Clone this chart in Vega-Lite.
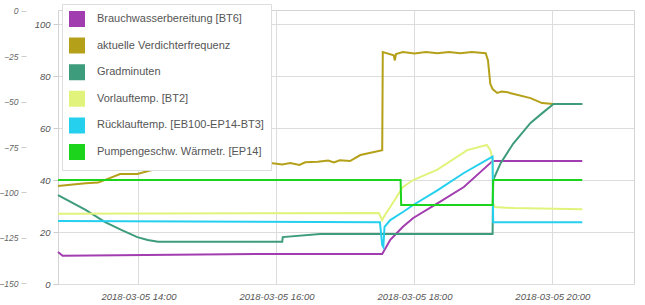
{
"$schema": "https://vega.github.io/schema/vega-lite/v6.json",
"width": 576, "height": 274,
"autosize": {"type": "none"},
"padding": {"left": 58, "top": 10, "right": 11, "bottom": 21},
"background": "white",
"view": {"stroke": "#d4d4d4"},
"data": {"values": [
{"time":"2018-03-05T12:50:00","series":"Brauchwasserbereitung [BT6]","value":12.3},
{"time":"2018-03-05T12:54:00","series":"Brauchwasserbereitung [BT6]","value":10.9},
{"time":"2018-03-05T15:42:00","series":"Brauchwasserbereitung [BT6]","value":11.5},
{"time":"2018-03-05T17:32:00","series":"Brauchwasserbereitung [BT6]","value":11.5},
{"time":"2018-03-05T17:39:00","series":"Brauchwasserbereitung [BT6]","value":17.0},
{"time":"2018-03-05T17:50:00","series":"Brauchwasserbereitung [BT6]","value":22.0},
{"time":"2018-03-05T17:59:00","series":"Brauchwasserbereitung [BT6]","value":25.4},
{"time":"2018-03-05T18:20:00","series":"Brauchwasserbereitung [BT6]","value":31.0},
{"time":"2018-03-05T18:43:00","series":"Brauchwasserbereitung [BT6]","value":37.3},
{"time":"2018-03-05T19:06:00","series":"Brauchwasserbereitung [BT6]","value":46.5},
{"time":"2018-03-05T19:08:00","series":"Brauchwasserbereitung [BT6]","value":47.3},
{"time":"2018-03-05T20:26:00","series":"Brauchwasserbereitung [BT6]","value":47.3},
{"time":"2018-03-05T12:50:00","series":"aktuelle Verdichterfrequenz","value":37.7},
{"time":"2018-03-05T13:14:00","series":"aktuelle Verdichterfrequenz","value":38.8},
{"time":"2018-03-05T13:25:00","series":"aktuelle Verdichterfrequenz","value":39.0},
{"time":"2018-03-05T13:44:00","series":"aktuelle Verdichterfrequenz","value":42.3},
{"time":"2018-03-05T13:59:00","series":"aktuelle Verdichterfrequenz","value":42.3},
{"time":"2018-03-05T14:15:00","series":"aktuelle Verdichterfrequenz","value":44.2},
{"time":"2018-03-05T14:35:00","series":"aktuelle Verdichterfrequenz","value":45.0},
{"time":"2018-03-05T15:42:00","series":"aktuelle Verdichterfrequenz","value":45.8},
{"time":"2018-03-05T15:55:00","series":"aktuelle Verdichterfrequenz","value":46.5},
{"time":"2018-03-05T16:05:00","series":"aktuelle Verdichterfrequenz","value":46.0},
{"time":"2018-03-05T16:12:00","series":"aktuelle Verdichterfrequenz","value":46.5},
{"time":"2018-03-05T16:20:00","series":"aktuelle Verdichterfrequenz","value":45.8},
{"time":"2018-03-05T16:25:00","series":"aktuelle Verdichterfrequenz","value":46.8},
{"time":"2018-03-05T16:36:00","series":"aktuelle Verdichterfrequenz","value":47.0},
{"time":"2018-03-05T16:45:00","series":"aktuelle Verdichterfrequenz","value":47.5},
{"time":"2018-03-05T16:50:00","series":"aktuelle Verdichterfrequenz","value":46.8},
{"time":"2018-03-05T16:55:00","series":"aktuelle Verdichterfrequenz","value":47.6},
{"time":"2018-03-05T17:04:00","series":"aktuelle Verdichterfrequenz","value":47.3},
{"time":"2018-03-05T17:13:00","series":"aktuelle Verdichterfrequenz","value":49.6},
{"time":"2018-03-05T17:32:00","series":"aktuelle Verdichterfrequenz","value":51.5},
{"time":"2018-03-05T17:32:30","series":"aktuelle Verdichterfrequenz","value":89.2},
{"time":"2018-03-05T17:42:00","series":"aktuelle Verdichterfrequenz","value":88.0},
{"time":"2018-03-05T17:43:00","series":"aktuelle Verdichterfrequenz","value":86.0},
{"time":"2018-03-05T17:44:00","series":"aktuelle Verdichterfrequenz","value":88.5},
{"time":"2018-03-05T17:50:00","series":"aktuelle Verdichterfrequenz","value":89.2},
{"time":"2018-03-05T18:00:00","series":"aktuelle Verdichterfrequenz","value":88.7},
{"time":"2018-03-05T18:10:00","series":"aktuelle Verdichterfrequenz","value":89.2},
{"time":"2018-03-05T18:20:00","series":"aktuelle Verdichterfrequenz","value":88.8},
{"time":"2018-03-05T18:30:00","series":"aktuelle Verdichterfrequenz","value":89.2},
{"time":"2018-03-05T18:40:00","series":"aktuelle Verdichterfrequenz","value":88.8},
{"time":"2018-03-05T18:50:00","series":"aktuelle Verdichterfrequenz","value":89.2},
{"time":"2018-03-05T19:02:00","series":"aktuelle Verdichterfrequenz","value":88.8},
{"time":"2018-03-05T19:04:00","series":"aktuelle Verdichterfrequenz","value":86.0},
{"time":"2018-03-05T19:06:00","series":"aktuelle Verdichterfrequenz","value":77.0},
{"time":"2018-03-05T19:08:00","series":"aktuelle Verdichterfrequenz","value":75.0},
{"time":"2018-03-05T19:12:00","series":"aktuelle Verdichterfrequenz","value":73.5},
{"time":"2018-03-05T19:16:00","series":"aktuelle Verdichterfrequenz","value":74.0},
{"time":"2018-03-05T19:21:00","series":"aktuelle Verdichterfrequenz","value":73.8},
{"time":"2018-03-05T19:23:00","series":"aktuelle Verdichterfrequenz","value":73.5},
{"time":"2018-03-05T19:41:00","series":"aktuelle Verdichterfrequenz","value":71.5},
{"time":"2018-03-05T19:51:00","series":"aktuelle Verdichterfrequenz","value":69.6},
{"time":"2018-03-05T20:01:00","series":"aktuelle Verdichterfrequenz","value":69.2},
{"time":"2018-03-05T20:26:00","series":"aktuelle Verdichterfrequenz","value":69.2},
{"time":"2018-03-05T12:50:00","series":"Gradminuten","value":-101.5},
{"time":"2018-03-05T13:14:00","series":"Gradminuten","value":-109.7},
{"time":"2018-03-05T13:31:00","series":"Gradminuten","value":-116.4},
{"time":"2018-03-05T13:45:00","series":"Gradminuten","value":-120.7},
{"time":"2018-03-05T13:59:00","series":"Gradminuten","value":-124.7},
{"time":"2018-03-05T14:08:00","series":"Gradminuten","value":-126.3},
{"time":"2018-03-05T14:17:00","series":"Gradminuten","value":-127.3},
{"time":"2018-03-05T16:05:00","series":"Gradminuten","value":-127.3},
{"time":"2018-03-05T16:05:30","series":"Gradminuten","value":-124.7},
{"time":"2018-03-05T16:38:00","series":"Gradminuten","value":-123.0},
{"time":"2018-03-05T19:08:00","series":"Gradminuten","value":-123.0},
{"time":"2018-03-05T19:08:30","series":"Gradminuten","value":-93.2},
{"time":"2018-03-05T19:15:00","series":"Gradminuten","value":-83.9},
{"time":"2018-03-05T19:26:00","series":"Gradminuten","value":-73.1},
{"time":"2018-03-05T19:41:00","series":"Gradminuten","value":-61.7},
{"time":"2018-03-05T19:52:00","series":"Gradminuten","value":-55.9},
{"time":"2018-03-05T20:01:00","series":"Gradminuten","value":-51.3},
{"time":"2018-03-05T20:26:00","series":"Gradminuten","value":-51.3},
{"time":"2018-03-05T12:50:00","series":"Vorlauftemp. [BT2]","value":27.0},
{"time":"2018-03-05T17:29:00","series":"Vorlauftemp. [BT2]","value":27.3},
{"time":"2018-03-05T17:32:00","series":"Vorlauftemp. [BT2]","value":24.6},
{"time":"2018-03-05T17:35:00","series":"Vorlauftemp. [BT2]","value":27.0},
{"time":"2018-03-05T17:39:00","series":"Vorlauftemp. [BT2]","value":29.6},
{"time":"2018-03-05T17:50:00","series":"Vorlauftemp. [BT2]","value":37.3},
{"time":"2018-03-05T17:59:00","series":"Vorlauftemp. [BT2]","value":40.0},
{"time":"2018-03-05T18:20:00","series":"Vorlauftemp. [BT2]","value":44.0},
{"time":"2018-03-05T18:46:00","series":"Vorlauftemp. [BT2]","value":51.5},
{"time":"2018-03-05T19:03:00","series":"Vorlauftemp. [BT2]","value":53.5},
{"time":"2018-03-05T19:06:00","series":"Vorlauftemp. [BT2]","value":51.5},
{"time":"2018-03-05T19:08:00","series":"Vorlauftemp. [BT2]","value":48.0},
{"time":"2018-03-05T19:08:30","series":"Vorlauftemp. [BT2]","value":31.0},
{"time":"2018-03-05T19:10:00","series":"Vorlauftemp. [BT2]","value":29.6},
{"time":"2018-03-05T19:26:00","series":"Vorlauftemp. [BT2]","value":29.2},
{"time":"2018-03-05T20:26:00","series":"Vorlauftemp. [BT2]","value":28.8},
{"time":"2018-03-05T12:50:00","series":"Rücklauftemp. [EB100-EP14-BT3]","value":24.2},
{"time":"2018-03-05T17:30:00","series":"Rücklauftemp. [EB100-EP14-BT3]","value":23.8},
{"time":"2018-03-05T17:32:00","series":"Rücklauftemp. [EB100-EP14-BT3]","value":15.0},
{"time":"2018-03-05T17:33:00","series":"Rücklauftemp. [EB100-EP14-BT3]","value":14.2},
{"time":"2018-03-05T17:34:00","series":"Rücklauftemp. [EB100-EP14-BT3]","value":22.0},
{"time":"2018-03-05T17:39:00","series":"Rücklauftemp. [EB100-EP14-BT3]","value":24.6},
{"time":"2018-03-05T17:50:00","series":"Rücklauftemp. [EB100-EP14-BT3]","value":27.7},
{"time":"2018-03-05T17:59:00","series":"Rücklauftemp. [EB100-EP14-BT3]","value":30.4},
{"time":"2018-03-05T18:20:00","series":"Rücklauftemp. [EB100-EP14-BT3]","value":36.0},
{"time":"2018-03-05T18:43:00","series":"Rücklauftemp. [EB100-EP14-BT3]","value":42.7},
{"time":"2018-03-05T19:06:00","series":"Rücklauftemp. [EB100-EP14-BT3]","value":48.5},
{"time":"2018-03-05T19:08:00","series":"Rücklauftemp. [EB100-EP14-BT3]","value":49.0},
{"time":"2018-03-05T19:08:30","series":"Rücklauftemp. [EB100-EP14-BT3]","value":23.8},
{"time":"2018-03-05T20:26:00","series":"Rücklauftemp. [EB100-EP14-BT3]","value":23.8},
{"time":"2018-03-05T12:50:00","series":"Pumpengeschw. Wärmetr. [EP14]","value":40.0},
{"time":"2018-03-05T17:48:00","series":"Pumpengeschw. Wärmetr. [EP14]","value":40.0},
{"time":"2018-03-05T17:48:30","series":"Pumpengeschw. Wärmetr. [EP14]","value":30.4},
{"time":"2018-03-05T19:08:00","series":"Pumpengeschw. Wärmetr. [EP14]","value":30.4},
{"time":"2018-03-05T19:08:30","series":"Pumpengeschw. Wärmetr. [EP14]","value":40.0},
{"time":"2018-03-05T20:26:00","series":"Pumpengeschw. Wärmetr. [EP14]","value":40.0}
]},
"encoding": {
  "x": {"field": "time", "type": "temporal",
    "scale": {"domain": [{"year":2018,"month":3,"date":5,"hours":12,"minutes":50},{"year":2018,"month":3,"date":5,"hours":21,"minutes":11}]},
    "axis": {"title": null, "format": "%Y-%m-%d %H:%M",
      "values": [{"year":2018,"month":3,"date":5,"hours":14},{"year":2018,"month":3,"date":5,"hours":16},{"year":2018,"month":3,"date":5,"hours":18},{"year":2018,"month":3,"date":5,"hours":20}],
      "tickSize": 0, "domain": false, "grid": true, "gridColor": "#dcdcdc",
      "labelFont": "Liberation Sans", "labelFontStyle": "italic", "labelFontSize": 9.5, "labelColor": "#555", "labelPadding": 7}},
  "color": {"field": "series", "type": "nominal",
    "scale": {"domain": ["Brauchwasserbereitung [BT6]","aktuelle Verdichterfrequenz","Gradminuten","Vorlauftemp. [BT2]","Rücklauftemp. [EB100-EP14-BT3]","Pumpengeschw. Wärmetr. [EP14]"],
      "range": ["#a23db0","#b5a019","#3d9c7c","#e2f37c","#25d0ee","#1cd41c"]},
    "legend": {"title": null, "orient": "none", "legendX": 4, "legendY": -6,
      "fillColor": "white", "strokeColor": "#dddddd", "padding": 7,
      "symbolType": "square", "symbolSize": 196, "rowPadding": 4.6, "labelOffset": 12, "labelLimit": 300,
      "labelFont": "Liberation Sans", "labelFontSize": 11, "labelColor": "#555",
      "encode": {"symbols": {"update": {"fill": {"scale": "color", "field": "value"}, "stroke": {"value": "#cccccc"}, "strokeWidth": {"value": 2}, "opacity": {"value": 1}}}}}}
},
"layer": [
  {"transform": [{"filter": {"field": "series", "oneOf": ["Brauchwasserbereitung [BT6]","aktuelle Verdichterfrequenz"]}}],
   "mark": {"type": "line", "strokeWidth": 2},
   "encoding": {"y": {"field": "value", "type": "quantitative",
     "scale": {"domain": [0, 105.4], "nice": false, "zero": false},
     "axis": {"title": null, "orient": "left", "values": [0,20,40,60,80,100], "grid": true, "gridColor": "#dcdcdc", "domain": false,
       "tickSize": 5, "tickColor": "#cccccc", "labelPadding": 3,
       "labelFont": "Liberation Sans", "labelFontStyle": "italic", "labelFontSize": 9.5, "labelColor": "#555"}}}},
  {"transform": [{"filter": {"field": "series", "equal": "Gradminuten"}}],
   "mark": {"type": "line", "strokeWidth": 2},
   "encoding": {"y": {"field": "value", "type": "quantitative",
     "scale": {"domain": [-150.55, 0.55], "nice": false, "zero": false},
     "axis": {"title": null, "orient": "left", "offset": 32, "values": [0,-25,-50,-75,-100,-125,-150], "grid": false, "domain": false,
       "tickSize": 5, "tickColor": "#cccccc", "labelPadding": 3,
       "labelFont": "Liberation Sans", "labelFontStyle": "italic", "labelFontSize": 8.5, "labelColor": "#666"}}}},
  {"transform": [{"filter": {"field": "series", "oneOf": ["Vorlauftemp. [BT2]","Rücklauftemp. [EB100-EP14-BT3]","Pumpengeschw. Wärmetr. [EP14]"]}}],
   "mark": {"type": "line", "strokeWidth": 2},
   "encoding": {"y": {"field": "value", "type": "quantitative",
     "scale": {"domain": [0, 105.4], "nice": false, "zero": false}, "axis": null}}}
],
"resolve": {"scale": {"y": "independent"}, "axis": {"y": "independent"}}
}
